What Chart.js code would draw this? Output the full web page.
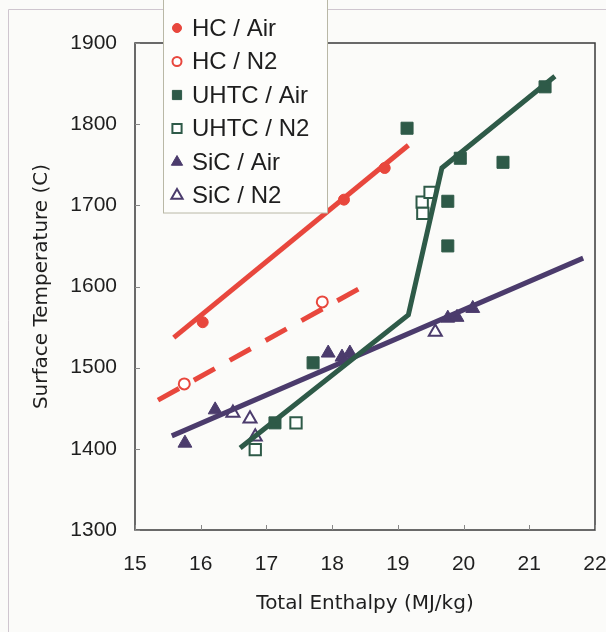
<!DOCTYPE html>
<html>
<head>
<meta charset="utf-8">
<script src="https://cdn.jsdelivr.net/npm/chart.js@4.4.1/dist/chart.umd.min.js"></script>
<style>
  html, body { margin: 0; padding: 0; background: #fbfbf9; }
  #wrap { width: 606px; height: 632px; position: relative; }
</style>
</head>
<body>
<div id="wrap"><canvas id="c" width="606" height="632"></canvas></div>
<script>
// ---- axis ticks ----
const xTicks = [15, 16, 17, 18, 19, 20, 21, 22];
const yTicks = [1300, 1400, 1500, 1600, 1700, 1800, 1900];

// ---- measured points ----
const hcAirX = [16.03, 18.18, 18.80];
const hcAirY = [1556, 1707, 1746];
const hcN2X = [15.75, 17.85];
const hcN2Y = [1480, 1581];

const uhtcAirX = [17.13, 17.71, 19.14, 19.76, 19.76, 19.95, 20.60, 21.24];
const uhtcAirY = [1432, 1506, 1795, 1705, 1650, 1758, 1753, 1846];
const uhtcN2X = [16.83, 17.45, 19.37, 19.38, 19.49];
const uhtcN2Y = [1399, 1432, 1704, 1690, 1716];

const sicAirX = [15.76, 16.22, 17.94, 18.15, 18.27, 19.76, 19.90, 20.14];
const sicAirY = [1407, 1448, 1518, 1513, 1518, 1561, 1562, 1573];
const sicN2X = [16.49, 16.75, 16.83, 19.57];
const sicN2Y = [1444, 1437, 1415, 1544];

// ---- trend lines ----
const hcAirFitX = [15.59, 19.16];
const hcAirFitY = [1537, 1774];
const hcN2FitX = [15.35, 18.58];
const hcN2FitY = [1460, 1605];
const uhtcFitX = [16.60, 19.16, 19.67, 21.39];
const uhtcFitY = [1401, 1565, 1746, 1859];
const sicFitX = [15.56, 21.82];
const sicFitY = [1416, 1635];

const RED = '#e8473d';
const GREEN = '#2e5a48';
const PURPLE = '#4b3b6c';

const pts = (xs, ys) => xs.map((x, i) => ({ x: x, y: ys[i] }));

function marker(label, xs, ys, style, color, filled, radius) {
  return {
    label: label,
    data: pts(xs, ys),
    pointStyle: style,
    pointRadius: radius,
    pointHoverRadius: radius,
    backgroundColor: filled ? color : '#ffffff',
    borderColor: color,
    pointBorderWidth: filled ? 1 : 2,
    showLine: false,
    isMarker: true
  };
}
function trend(xs, ys, color, dash) {
  return {
    label: '',
    data: pts(xs, ys),
    showLine: true,
    borderColor: color,
    borderWidth: 5,
    borderDash: dash || [],
    pointRadius: 0,
    pointHoverRadius: 0,
    fill: false,
    tension: 0,
    isMarker: false
  };
}

const datasets = [
  trend(hcAirFitX, hcAirFitY, RED),
  trend(hcN2FitX, hcN2FitY, RED, [24, 17]),
  trend(uhtcFitX, uhtcFitY, GREEN),
  trend(sicFitX, sicFitY, PURPLE),
  marker('HC / Air', hcAirX, hcAirY, 'circle', RED, true, 5.5),
  marker('HC / N2', hcN2X, hcN2Y, 'circle', RED, false, 5.5),
  marker('UHTC / Air', uhtcAirX, uhtcAirY, 'rect', GREEN, true, 8.5),
  marker('UHTC / N2', uhtcN2X, uhtcN2Y, 'rect', GREEN, false, 8),
  marker('SiC / Air', sicAirX, sicAirY, 'triangle', PURPLE, true, 8),
  marker('SiC / N2', sicN2X, sicN2Y, 'triangle', PURPLE, false, 7.5)
];

const framePlugin = {
  id: 'frame',
  beforeDraw(chart) {
    const ctx = chart.ctx;
    ctx.save();
    ctx.fillStyle = '#fbfbf9';
    ctx.fillRect(0, 0, chart.width, chart.height);
    ctx.strokeStyle = '#cfc6cf';
    ctx.lineWidth = 1;
    ctx.beginPath();
    ctx.moveTo(8.5, chart.height);
    ctx.lineTo(8.5, 9.5);
    ctx.lineTo(chart.width, 9.5);
    ctx.stroke();
    ctx.restore();
  },
  afterDraw(chart) {
    const ctx = chart.ctx;
    const a = chart.chartArea;
    const xs = chart.scales.x, ys = chart.scales.y;
    ctx.save();
    ctx.strokeStyle = '#3a3a3a';
    ctx.lineWidth = 1.5;
    ctx.strokeRect(a.left, a.top, a.right - a.left, a.bottom - a.top);
    ctx.lineWidth = 1;
    ctx.strokeStyle = '#888888';
    ctx.beginPath();
    xTicks.forEach(v => {
      const px = Math.round(xs.getPixelForValue(v)) + 0.5;
      ctx.moveTo(px, a.bottom);
      ctx.lineTo(px, a.bottom - 5);
    });
    yTicks.forEach(v => {
      const py = Math.round(ys.getPixelForValue(v)) + 0.5;
      ctx.moveTo(a.left, py);
      ctx.lineTo(a.left + 5, py);
    });
    ctx.stroke();

    // legend box
    const bx = 163.5, by = -1, bw = 164, bh = 214;
    ctx.fillStyle = '#fdfdfb';
    ctx.fillRect(bx, by, bw, bh);
    ctx.strokeStyle = '#b9b8a6';
    ctx.lineWidth = 1;
    ctx.strokeRect(bx, by, bw, bh);
    const items = chart.data.datasets.filter(d => d.isMarker);
    ctx.font = '24px "Liberation Sans", Arial, sans-serif';
    ctx.textBaseline = 'middle';
    ctx.textAlign = 'left';
    items.forEach((d, i) => {
      const cy = 28 + i * 33.5;
      const mx = 177;
      ctx.fillStyle = d.backgroundColor;
      ctx.strokeStyle = d.borderColor;
      ctx.lineWidth = d.pointBorderWidth;
      const r = d.pointStyle === 'circle' ? 4.5 : 6.5;
      Chart.helpers.drawPoint(ctx, { pointStyle: d.pointStyle, radius: r, rotation: 0, borderWidth: d.pointBorderWidth }, mx, cy);
      ctx.fillStyle = '#1e1e1e';
      ctx.fillText(d.label, 192, cy + 1);
    });
    ctx.restore();
  }
};

new Chart(document.getElementById('c'), {
  type: 'scatter',
  data: { datasets: datasets },
  options: {
    responsive: false,
    animation: false,
    devicePixelRatio: 1,
    layout: { padding: { left: 30, right: 11, top: 43, bottom: 14 } },
    plugins: {
      legend: { display: false },
      tooltip: { enabled: false }
    },
    scales: {
      x: {
        type: 'linear',
        min: 15, max: 22,
        afterBuildTicks(scale) { scale.ticks = xTicks.map(v => ({ value: v })); },
        afterFit(scale) {
          scale.height = 632 - 14 - 530;
          scale.paddingLeft = 0; scale.paddingRight = 0;
        },
        grid: { display: false, drawTicks: false },
        border: { display: false },
        ticks: {
          padding: 22,
          color: '#1e1e1e',
          callback: v => String(v),
          font: { family: '"Liberation Sans", Arial, sans-serif', size: 21 }
        },
        title: {
          display: true,
          text: 'Total Enthalpy (MJ/kg)',
          color: '#1e1e1e',
          padding: { top: 0, bottom: 2 },
          font: { family: '"DejaVu Sans", sans-serif', size: 20 }
        }
      },
      y: {
        type: 'linear',
        min: 1300, max: 1900,
        afterBuildTicks(scale) { scale.ticks = yTicks.map(v => ({ value: v })); },
        afterFit(scale) {
          scale.width = 135 - 30;
          scale.paddingTop = 0; scale.paddingBottom = 0;
        },
        grid: { display: false, drawTicks: false },
        border: { display: false },
        ticks: {
          padding: 18,
          color: '#1e1e1e',
          callback: v => String(v),
          font: { family: '"Liberation Sans", Arial, sans-serif', size: 21 }
        },
        title: {
          display: true,
          text: 'Surface Temperature (C)',
          color: '#1e1e1e',
          padding: { top: 0, bottom: 0 },
          font: { family: '"DejaVu Sans", sans-serif', size: 20 }
        }
      }
    }
  },
  plugins: [framePlugin]
});
</script>
</body>
</html>
